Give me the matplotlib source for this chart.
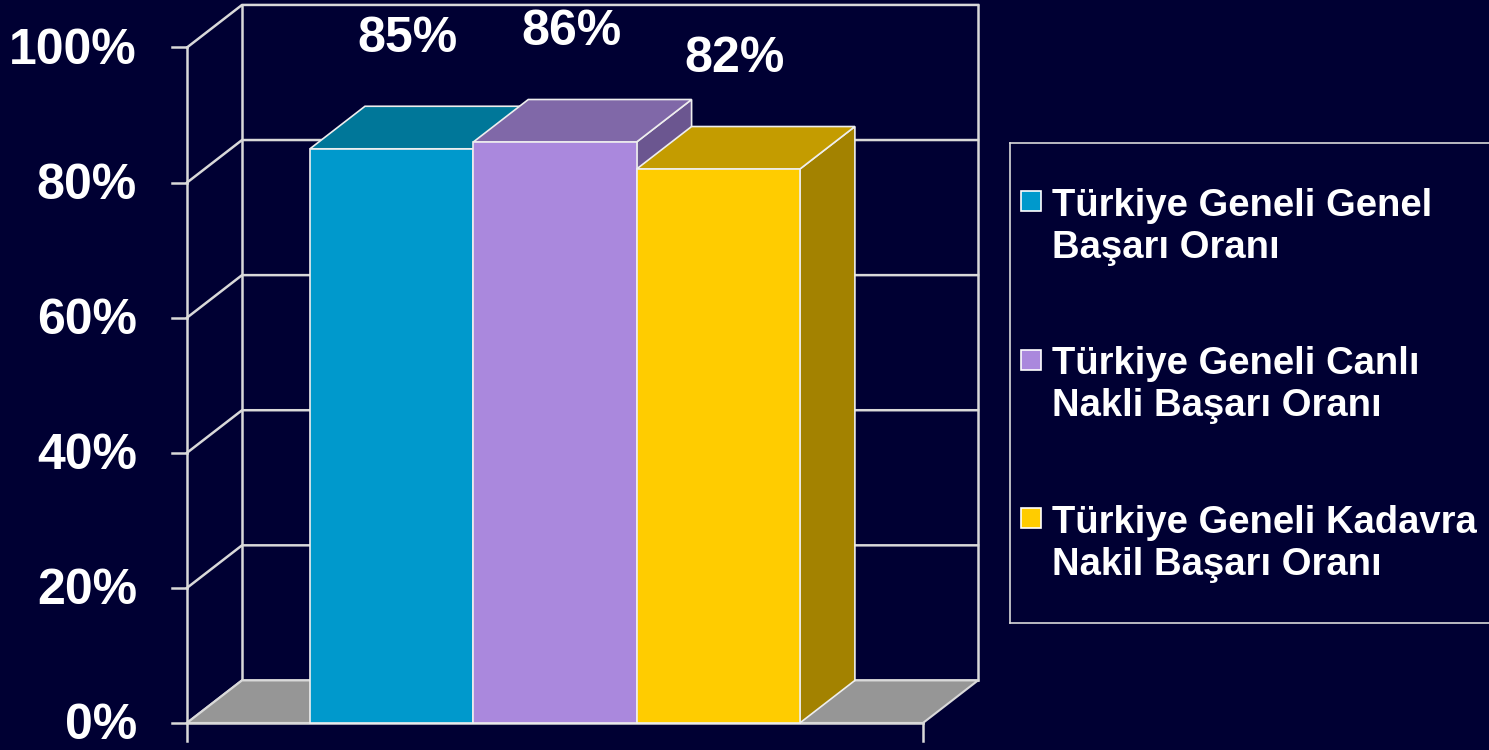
import matplotlib
matplotlib.use("Agg")
import matplotlib.pyplot as plt
from matplotlib.patches import Polygon, Rectangle

# data
categories = ["Türkiye Geneli Genel\nBaşarı Oranı",
              "Türkiye Geneli Canlı\nNakli Başarı Oranı",
              "Türkiye Geneli Kadavra\nNakil Başarı Oranı"]
values = [85, 86, 82]
value_labels = ["85%", "86%", "82%"]
yticks = [0, 20, 40, 60, 80, 100]
ytick_labels = ["0%", "20%", "40%", "60%", "80%", "100%"]

front_colors = ["#0099CC", "#AA88DD", "#FFCC00"]
top_colors = ["#007799", "#8068A8", "#C49C00"]
side_colors = ["#005F7F", "#6B5690", "#A38200"]

BG = "#000033"
LINE = "#D9D9D9"
W, H = 1489, 750

plt.rcParams['font.family'] = ['Liberation Sans', 'DejaVu Sans']
fig = plt.figure(figsize=(W / 100, H / 100), dpi=100, facecolor=BG)
ax = fig.add_axes([0, 0, 1, 1])
ax.set_facecolor(BG)
ax.set_xlim(-1.898, 7.22)
ax.set_ylim(-4.0, 107.03)
ax.axis("off")

# fake 3d depth
dx, dy = 0.337, 6.3
x_left, x_right = -0.753, 3.754

# walls + gridlines
for v in yticks:
    ax.plot([x_left, x_left + dx, x_right + dx], [v, v + dy, v + dy],
            color=LINE, lw=1.8, zorder=1)
for xx in (x_left + dx, x_right + dx):
    ax.plot([xx, xx], [dy, yticks[-1] + dy], color=LINE, lw=1.8, zorder=1)

# floor
ax.add_patch(Polygon([(x_left, 0), (x_right, 0), (x_right + dx, dy), (x_left + dx, dy)],
                     closed=True, fc="#969696", ec=LINE, lw=1.5, zorder=2))

# front axes
ax.plot([x_left, x_left], [-2.6, yticks[-1]], color=LINE, lw=1.8, zorder=2)
ax.plot([x_left, x_right], [0, 0], color=LINE, lw=1.8, zorder=2)
ax.plot([x_right, x_right], [0, -2.6], color=LINE, lw=1.8, zorder=2)
for v, lbl in zip(yticks, ytick_labels):
    ax.plot([x_left - 0.092, x_left], [v, v], color=LINE, lw=1.8, zorder=2)
    ax.text(x_left - 0.306, v - 0.5, lbl, ha="right", va="center", color="white",
            fontsize=36, fontweight="bold")

# bars
for i, v in enumerate(values):
    x0 = i
    z = 3 + i
    ax.add_patch(Polygon([(x0 + 1, 0), (x0 + 1 + dx, dy), (x0 + 1 + dx, v + dy), (x0 + 1, v)],
                         closed=True, fc=side_colors[i], ec="#EEEEEE", lw=1.2, zorder=z))
    ax.add_patch(Polygon([(x0, v), (x0 + 1, v), (x0 + 1 + dx, v + dy), (x0 + dx, v + dy)],
                         closed=True, fc=top_colors[i], ec="#EEEEEE", lw=1.2, zorder=z))
    ax.add_patch(Rectangle((x0, 0), 1, v, fc=front_colors[i], ec="#EEEEEE", lw=1.2, zorder=z))
    ax.text(x0 + 0.6, v + 14.3, value_labels[i], ha="center", va="baseline",
            color="white", fontsize=36, fontweight="bold", zorder=10)

# legend (drawn by hand so the swatch sits on the first line)
lax = fig.add_axes([1010 / W, (H - 623) / H, (W - 1010) / W + 0.01, 480 / H])
lax.set_facecolor("none")
lax.set_xlim(1010, 1489 + 0.01 * W)
lax.set_ylim(623, 143)
lax.set_xticks([]); lax.set_yticks([])
for s in ("left", "top", "bottom"):
    lax.spines[s].set_color(LINE)
    lax.spines[s].set_linewidth(1.2)
lax.spines["right"].set_visible(False)

for i, lbl in enumerate(categories):
    base = 216 + i * 158.5
    lax.add_patch(Rectangle((1021, base - 25), 20, 20, fc=front_colors[i], ec="white", lw=1.2))
    # va=baseline on multi-line text pins the last line, so go one line down
    lax.text(1052, base + 42, lbl, ha="left", va="baseline", color="white",
             fontsize=27.5, fontweight="bold", linespacing=1.22)

fig.savefig("out.png", dpi=100, facecolor=BG)
